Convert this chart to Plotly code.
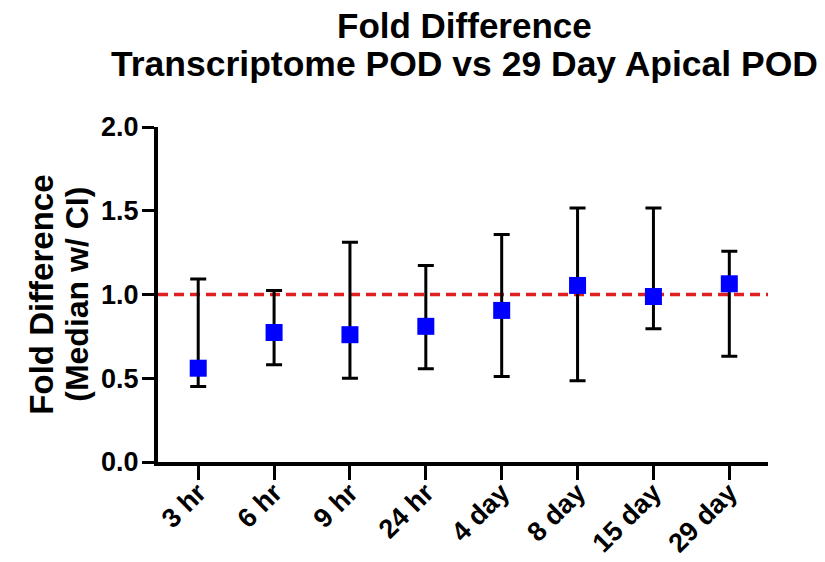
import plotly.graph_objects as go

categories = ["3 hr", "6 hr", "9 hr", "24 hr", "4 day", "8 day", "15 day", "29 day"]
median = [0.56, 0.773, 0.76, 0.81, 0.905, 1.054, 0.988, 1.064]
upper = [1.093, 1.024, 1.312, 1.173, 1.358, 1.517, 1.517, 1.258]
lower = [0.451, 0.58, 0.50, 0.557, 0.511, 0.485, 0.795, 0.632]
ref_value = 1.0
y_ticks = [0.0, 0.5, 1.0, 1.5, 2.0]

err_plus = [u - m for u, m in zip(upper, median)]
err_minus = [m - l for m, l in zip(median, lower)]

FONT = "Liberation Sans, Arial, sans-serif"

fig = go.Figure()
fig.add_trace(go.Scatter(
    x=list(range(len(categories))), y=median, mode="markers",
    marker=dict(symbol="square", size=17, color="#0000ff", line=dict(width=0)),
    error_y=dict(type="data", symmetric=False, array=err_plus, arrayminus=err_minus,
                 color="black", thickness=3, width=8),
    showlegend=False,
))

fig.add_shape(type="line", xref="paper", yref="y", x0=0, x1=1, y0=ref_value, y1=ref_value,
              line=dict(color="#e02020", width=3.5, dash="10px,6px"), layer="below")

fig.update_layout(
    width=825, height=562,
    margin=dict(l=150, r=65, t=119, b=108, autoexpand=False),
    paper_bgcolor="white", plot_bgcolor="white",
    font=dict(family=FONT, color="black"),
    xaxis=dict(
        range=[-0.53, 7.51], tickmode="array", tickvals=list(range(len(categories))),
        ticktext=["<b>%s</b>" % c for c in categories], tickangle=-45, automargin=False,
        ticklabelstandoff=-14,
        showline=True, linecolor="black", linewidth=4, ticks="outside", ticklen=14,
        tickwidth=3, tickcolor="black", showgrid=False, zeroline=False,
        tickfont=dict(size=27, family=FONT, color="black"),
    ),
    yaxis=dict(
        range=[0, 2.0], tickmode="array", tickvals=y_ticks, automargin=False,
        ticktext=["<b>%.1f</b>" % v for v in y_ticks], ticklabelstandoff=-2,
        showline=True, linecolor="black", linewidth=4, ticks="outside", ticklen=12,
        tickwidth=3, tickcolor="black", showgrid=False, zeroline=False,
        tickfont=dict(size=27, family=FONT, color="black"),
    ),
)

annotations = [
    dict(text="<b>Fold Difference</b>", x=0.502, y=1.304, size=35, angle=0),
    dict(text="<b>Transcriptome POD vs 29 Day Apical POD</b>", x=0.502, y=1.187, size=35.5, angle=0),
    dict(text="<b>Fold Difference</b>", x=-0.1915, y=0.5, size=33, angle=-90),
    dict(text="<b>(Median w/ CI)</b>", x=-0.134, y=0.5, size=32, angle=-90),
]
for a in annotations:
    fig.add_annotation(text=a["text"], xref="paper", yref="paper", x=a["x"], y=a["y"],
                       xanchor="center", yanchor="middle", showarrow=False, textangle=a["angle"],
                       font=dict(size=a["size"], family=FONT, color="black"))

fig.write_html("out.html")
